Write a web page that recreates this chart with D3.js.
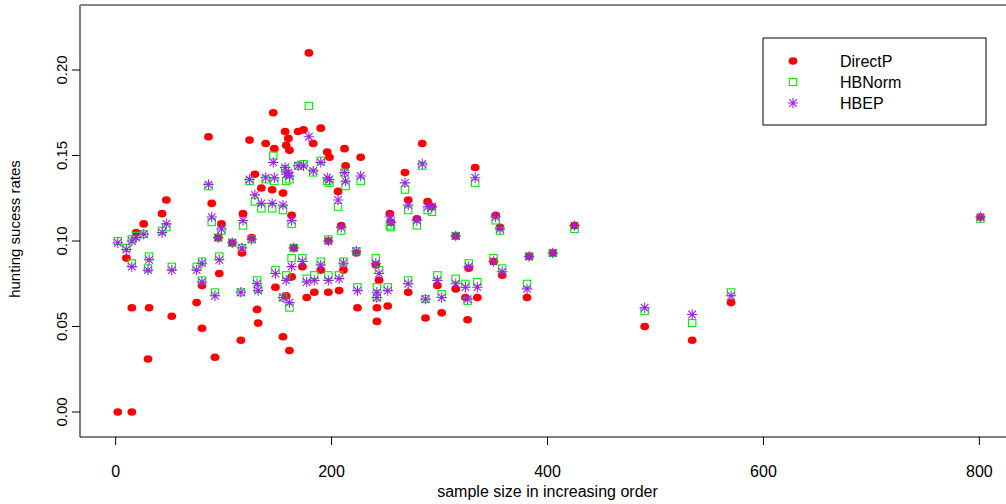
<!DOCTYPE html>
<html lang="en">
<head>
<meta charset="utf-8">
<title>hunting success rates</title>
<script src="https://cdn.jsdelivr.net/npm/d3@7"></script>
<style>
  body { margin: 0; background: #fff; }
  text { font-family: "Liberation Sans", Arial, sans-serif; fill: #000; }
</style>
</head>
<body>
<script>
// sample sizes (x) and the three estimates for each sample
var sampleSize = [2, 15, 10, 15, 19, 26, 31, 30, 43, 47, 52, 75, 80, 80, 86, 89, 92, 95, 96, 98,
  108, 117, 116, 118, 124, 126, 129, 131, 132, 135, 139, 145, 146, 147, 148, 155, 155, 157, 158, 158,
  160, 161, 161, 163, 163, 165, 169, 174, 173, 177, 179, 183, 184, 190, 190, 196, 197, 197, 198, 206,
  207, 209, 211, 212, 213, 223, 224, 227, 241, 242, 242, 244, 252, 254, 255, 268, 271, 271, 279, 284,
  287, 289, 293, 298, 302, 315, 315, 324, 326, 327, 333, 335, 350, 352, 356, 358, 381, 383, 405, 425,
  490, 534, 570, 801];

var directP = [0.000, 0.000, 0.090, 0.061, 0.105, 0.110, 0.061, 0.031, 0.116, 0.124, 0.056, 0.064, 0.074, 0.049, 0.161, 0.122, 0.032, 0.102, 0.081, 0.110,
  0.099, 0.093, 0.042, 0.116, 0.159, 0.102, 0.139, 0.060, 0.052, 0.131, 0.157, 0.130, 0.175, 0.154, 0.073, 0.128, 0.044, 0.164, 0.156, 0.068,
  0.160, 0.153, 0.036, 0.115, 0.079, 0.096, 0.164, 0.165, 0.085, 0.067, 0.210, 0.157, 0.070, 0.166, 0.083, 0.152, 0.100, 0.070, 0.149, 0.129,
  0.071, 0.109, 0.083, 0.154, 0.144, 0.093, 0.061, 0.149, 0.086, 0.061, 0.053, 0.077, 0.062, 0.116, 0.111, 0.140, 0.124, 0.070, 0.113, 0.157,
  0.055, 0.123, 0.120, 0.074, 0.058, 0.103, 0.072, 0.067, 0.054, 0.084, 0.143, 0.067, 0.088, 0.115, 0.108, 0.080, 0.067, 0.091, 0.093, 0.109,
  0.050, 0.042, 0.064, 0.114];

var hbNorm = [0.100, 0.101, 0.096, 0.087, 0.103, 0.104, 0.091, 0.084, 0.106, 0.108, 0.085, 0.085, 0.088, 0.077, 0.132, 0.111, 0.070, 0.102, 0.091, 0.106,
  0.099, 0.096, 0.070, 0.109, 0.135, 0.101, 0.123, 0.077, 0.072, 0.119, 0.136, 0.119, 0.150, 0.135, 0.083, 0.118, 0.067, 0.142, 0.135, 0.080,
  0.139, 0.136, 0.061, 0.110, 0.090, 0.096, 0.144, 0.145, 0.090, 0.078, 0.179, 0.140, 0.080, 0.147, 0.088, 0.135, 0.101, 0.080, 0.134, 0.120,
  0.080, 0.106, 0.088, 0.140, 0.132, 0.094, 0.073, 0.135, 0.090, 0.073, 0.067, 0.083, 0.073, 0.109, 0.108, 0.130, 0.118, 0.077, 0.109, 0.144,
  0.066, 0.118, 0.117, 0.080, 0.069, 0.103, 0.078, 0.075, 0.065, 0.087, 0.134, 0.076, 0.090, 0.112, 0.106, 0.084, 0.075, 0.091, 0.093, 0.107,
  0.059, 0.052, 0.070, 0.113];

var hbEP = [0.099, 0.100, 0.095, 0.085, 0.102, 0.104, 0.089, 0.083, 0.105, 0.110, 0.083, 0.083, 0.087, 0.076, 0.133, 0.114, 0.068, 0.102, 0.089, 0.107,
  0.099, 0.096, 0.070, 0.112, 0.136, 0.101, 0.127, 0.075, 0.071, 0.122, 0.137, 0.122, 0.146, 0.137, 0.081, 0.121, 0.067, 0.143, 0.139, 0.077,
  0.140, 0.138, 0.064, 0.112, 0.085, 0.096, 0.144, 0.144, 0.088, 0.076, 0.161, 0.141, 0.077, 0.146, 0.086, 0.137, 0.100, 0.077, 0.136, 0.124,
  0.078, 0.108, 0.087, 0.140, 0.135, 0.094, 0.071, 0.138, 0.087, 0.070, 0.067, 0.081, 0.071, 0.114, 0.111, 0.134, 0.121, 0.075, 0.112, 0.145,
  0.066, 0.120, 0.120, 0.077, 0.067, 0.103, 0.075, 0.073, 0.066, 0.085, 0.137, 0.073, 0.088, 0.114, 0.107, 0.082, 0.072, 0.091, 0.093, 0.109,
  0.061, 0.057, 0.068, 0.114];

var xTicks = [0, 200, 400, 600, 800];
var yTicks = [0.00, 0.05, 0.10, 0.15, 0.20];
var seriesNames = ["DirectP", "HBNorm", "HBEP"];

var w = 1006, h = 504;
var plotLeft = 80, plotTop = 5, plotBottom = 437, plotRight = 1015;

var xScale = d3.scaleLinear().domain([-33, 833]).range([plotLeft, plotRight]);
var yScale = d3.scaleLinear().domain([-0.0146, 0.238]).range([plotBottom, plotTop]);

var svg = d3.select("body").append("svg")
  .attr("width", w)
  .attr("height", h);

// marker shapes
function drawDot(g) {
  g.append("ellipse").attr("rx", 4.4).attr("ry", 3.8).attr("fill", "#ff0000");
}
function drawSquare(g) {
  g.append("rect").attr("x", -3.7).attr("y", -3.5).attr("width", 7.4).attr("height", 7)
    .attr("fill", "none").attr("stroke", "#00ee00").attr("stroke-width", 1.1);
}
function drawStar(g) {
  g.append("path")
    .attr("d", "M-5.2,0H5.2M0,-5.2V5.2M-3.8,-3.8L3.8,3.8M-3.8,3.8L3.8,-3.8")
    .attr("fill", "none").attr("stroke", "#a020f0").attr("stroke-width", 1.1);
}
var drawers = [drawDot, drawSquare, drawStar];
var series = [directP, hbNorm, hbEP];

var data = sampleSize.map(function(s, i) { return i; });

series.forEach(function(vals, k) {
  svg.append("g").selectAll("g")
    .data(data)
    .enter()
    .append("g")
    .attr("transform", function(i) {
      return "translate(" + xScale(sampleSize[i]) + "," + yScale(vals[i]) + ")";
    })
    .each(function() { drawers[k](d3.select(this)); });
});

// frame (right side runs off the picture)
svg.append("path")
  .attr("d", "M" + plotRight + "," + plotTop + "H" + plotLeft + "V" + plotBottom + "H" + plotRight)
  .attr("fill", "none").attr("stroke", "#000").attr("stroke-width", 1);
svg.append("line")
  .attr("x1", plotLeft).attr("x2", w).attr("y1", plotTop).attr("y2", plotTop)
  .attr("stroke", "#888").attr("stroke-width", 1.5);

// x axis
svg.append("g").selectAll("line").data(xTicks).enter().append("line")
  .attr("x1", function(d) { return xScale(d); })
  .attr("x2", function(d) { return xScale(d); })
  .attr("y1", plotBottom).attr("y2", plotBottom + 8)
  .attr("stroke", "#000");
svg.append("g").selectAll("text").data(xTicks).enter().append("text")
  .attr("x", function(d) { return xScale(d); })
  .attr("y", 477)
  .attr("text-anchor", "middle")
  .attr("font-size", "16px")
  .text(function(d) { return d; });
svg.append("text")
  .attr("x", xScale(400)).attr("y", 497)
  .attr("text-anchor", "middle")
  .attr("font-size", "16px")
  .text("sample size in increasing order");

// y axis
svg.append("g").selectAll("line").data(yTicks).enter().append("line")
  .attr("x1", plotLeft - 8).attr("x2", plotLeft)
  .attr("y1", function(d) { return yScale(d); })
  .attr("y2", function(d) { return yScale(d); })
  .attr("stroke", "#000");
svg.append("g").selectAll("text").data(yTicks).enter().append("text")
  .attr("transform", function(d) { return "translate(67," + yScale(d) + ") rotate(-90)"; })
  .attr("text-anchor", "middle")
  .attr("font-size", "15px")
  .text(function(d) { return d.toFixed(2); });
svg.append("text")
  .attr("transform", "translate(20," + yScale(0.107) + ") rotate(-90)")
  .attr("text-anchor", "middle")
  .attr("font-size", "15px")
  .text("hunting sucess rates");

// legend
var legend = svg.append("g").attr("transform", "translate(763,38)");
legend.append("rect").attr("width", 223).attr("height", 87)
  .attr("fill", "#fff").attr("stroke", "#000");
seriesNames.forEach(function(name, k) {
  var row = legend.append("g").attr("transform", "translate(30," + (23 + k * 21) + ")");
  drawers[k](row);
  row.append("text").attr("x", 47).attr("y", 5.5)
    .attr("font-size", "16px")
    .text(name);
});
</script>
</body>
</html>
